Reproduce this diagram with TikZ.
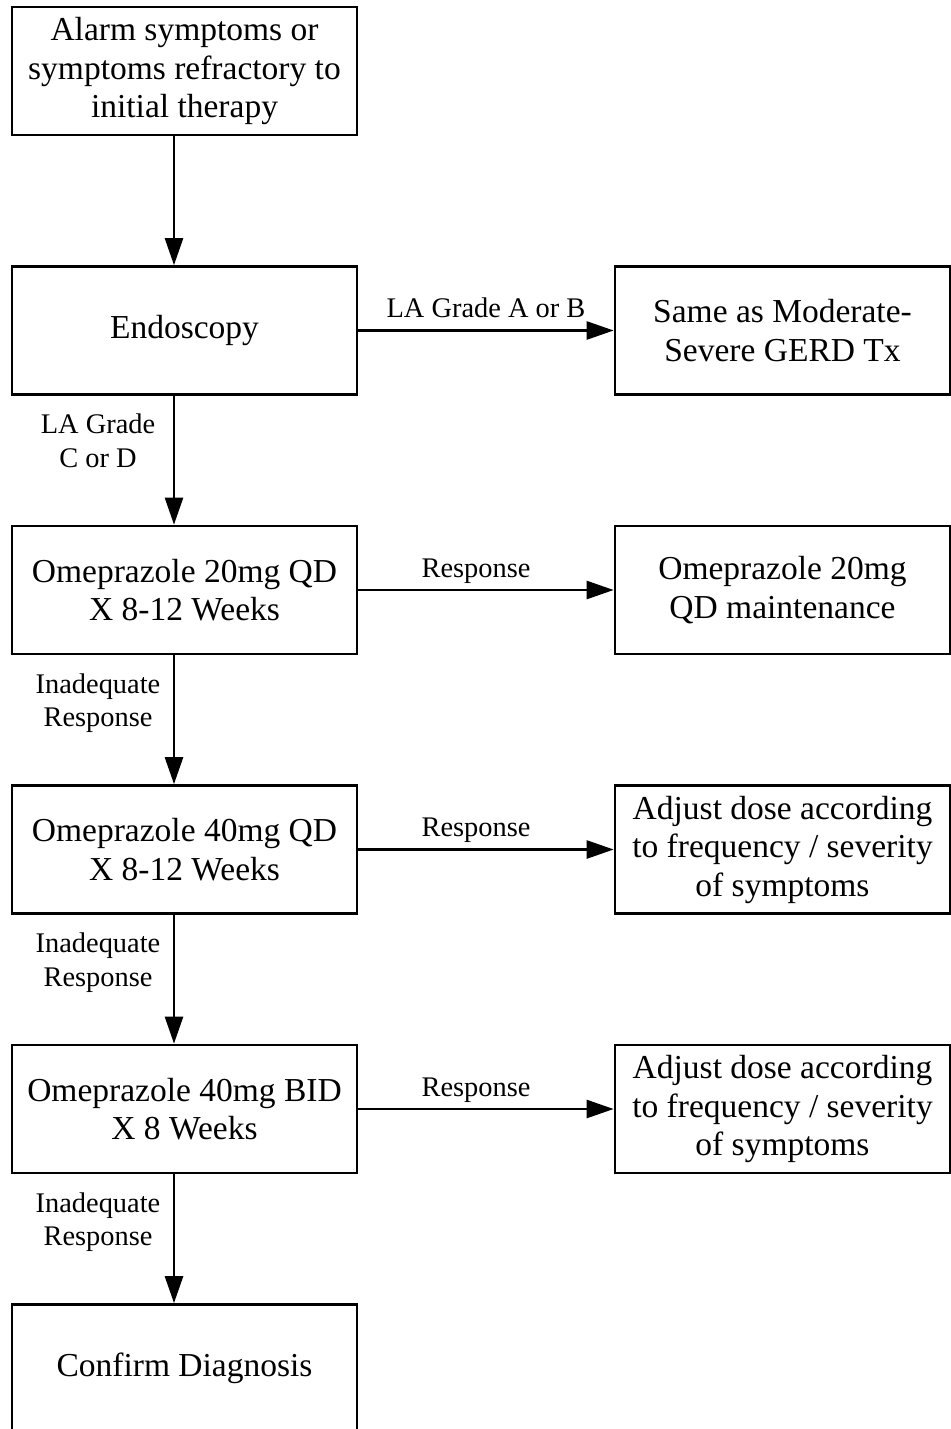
\documentclass[tikz,border=0pt]{standalone}
\usepackage{fontspec}
\setmainfont{Liberation Serif}
\usetikzlibrary{arrows.meta,positioning}

\begin{document}
\begin{tikzpicture}

  % Parameters
  \def\boxgap{64.4pt}
  \def\armgap{127.65pt}
  \def\spine{-5.25pt}

  % Styles
  \tikzstyle{every node}=[align=center]
  \tikzstyle{stage}=[draw,line width=1.35pt,minimum width=172.5pt,minimum height=64pt,inner sep=0pt,font=\fontsize{16.75}{19.25}\selectfont]
  \tikzstyle{outcome}=[stage,minimum width=167.5pt]
  \tikzstyle{lbl}=[inner sep=0pt,font=\fontsize{14.2}{16.75}\selectfont]
  \tikzstyle{arr}=[line width=1.3pt,-{Triangle[length=13.5pt,width=9pt]}]

  % Page size
  \useasboundingbox (0,0) rectangle (475.5pt,-714.5pt);

  % ===========================================================================

  % Draw main column
  \node[stage] (alarm) at (92.25pt,-35.5pt) {Alarm symptoms or\\symptoms refractory to\\initial therapy};
  \node[stage,below=\boxgap of alarm] (endo) {Endoscopy};
  \node[stage,below=\boxgap of endo] (ome20) {Omeprazole 20mg QD\\X 8-12 Weeks};
  \node[stage,below=\boxgap of ome20] (ome40) {Omeprazole 40mg QD\\X 8-12 Weeks};
  \node[stage,below=\boxgap of ome40] (omebid) {Omeprazole 40mg BID\\X 8 Weeks};
  \node[stage,below=\boxgap of omebid] (confirm) {Confirm Diagnosis};

  % Draw outcomes
  \node[outcome,right=\armgap of endo] (gerd) {Same as Moderate-\\Severe GERD Tx};
  \node[outcome,right=\armgap of ome20] (maint) {Omeprazole 20mg\\QD maintenance};
  \node[outcome,right=\armgap of ome40] (adjust-0) {Adjust dose according\\to frequency / severity\\of symptoms};
  \node[outcome,right=\armgap of omebid] (adjust-1) {Adjust dose according\\to frequency / severity\\of symptoms};

  % Draw downward arrows
  \draw[arr] ([xshift=\spine]alarm.south) -- ([xshift=\spine]endo.north);
  \draw[arr] ([xshift=\spine]endo.south) --
    node[lbl,pos=0,anchor=north,xshift=-38pt,yshift=-8.5pt] {LA Grade\\C or D} ([xshift=\spine]ome20.north);
  \draw[arr] ([xshift=\spine]ome20.south) --
    node[lbl,pos=0,anchor=north,xshift=-38pt,yshift=-8.5pt] {Inadequate\\Response} ([xshift=\spine]ome40.north);
  \draw[arr] ([xshift=\spine]ome40.south) --
    node[lbl,pos=0,anchor=north,xshift=-38pt,yshift=-8.5pt] {Inadequate\\Response} ([xshift=\spine]omebid.north);
  \draw[arr] ([xshift=\spine]omebid.south) --
    node[lbl,pos=0,anchor=north,xshift=-38pt,yshift=-8.5pt] {Inadequate\\Response} ([xshift=\spine]confirm.north);

  % Draw side arrows
  \draw[arr] (endo.east) -- node[lbl,anchor=base,yshift=6.5pt] {LA Grade A or B} (gerd.west);
  \draw[arr] (ome20.east) -- node[lbl,anchor=base,yshift=6.5pt,xshift=-5pt] {Response} (maint.west);
  \draw[arr] (ome40.east) -- node[lbl,anchor=base,yshift=6.5pt,xshift=-5pt] {Response} (adjust-0.west);
  \draw[arr] (omebid.east) -- node[lbl,anchor=base,yshift=6.5pt,xshift=-5pt] {Response} (adjust-1.west);

\end{tikzpicture}
\end{document}
